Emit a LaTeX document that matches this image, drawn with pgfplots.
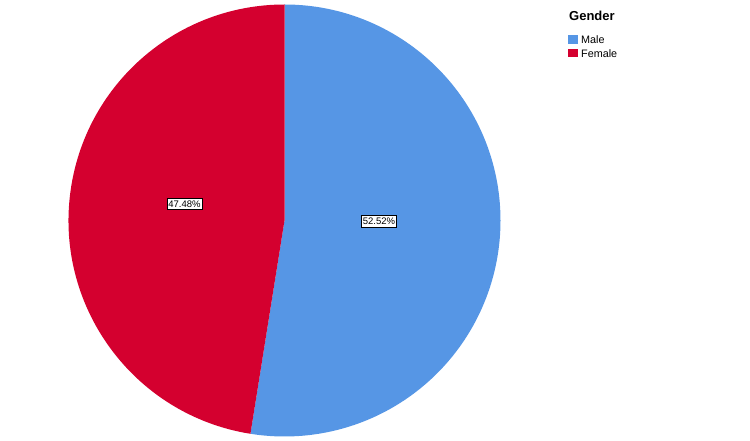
\documentclass[border=0pt]{standalone}
\usepackage{pgfplots}
\pgfplotsset{compat=1.18}
\usepackage{pgfplotstable}
\usepackage{fontspec}
\setmainfont{Liberation Sans}
\definecolor{male}{RGB}{86,150,229}
\definecolor{female}{RGB}{212,0,47}
\pgfplotstableread{
label value
Male 52.52
Female 47.48
}\piedata
\begin{document}
\begin{tikzpicture}
\useasboundingbox (0,0) rectangle (750pt,441pt);
\pgfplotstablegetelem{0}{value}\of\piedata
\let\vmale\pgfplotsretval
\pgfplotstablegetelem{1}{value}\of\piedata
\let\vfemale\pgfplotsretval
\pgfmathsetmacro\am{90-3.6*\vmale}
\pgfmathsetmacro\af{\am-3.6*\vfemale}
\begin{axis}[at={(0,0)},anchor=south west,
  width=750pt,height=441pt,scale only axis,
  xmin=0,xmax=750,ymin=0,ymax=441,
  hide axis,clip=false]
\fill[male] (axis cs:284.5,220.5) -- (axis cs:284.5,436.5)
  arc[start angle=90,end angle=\am,radius=216pt] -- cycle;
\fill[female] (axis cs:284.5,220.5) -- ++(\am:216pt)
  arc[start angle=\am,end angle=\af,radius=216pt] -- cycle;
\node[draw=black,line width=0.7pt,fill=white,inner xsep=1.5pt,inner ysep=2.3pt,
  font=\fontsize{9.5}{11}\selectfont] at (axis cs:184.5,237) {\vfemale\%};
\node[draw=black,line width=0.7pt,fill=white,inner xsep=1.5pt,inner ysep=2.3pt,
  font=\fontsize{9.5}{11}\selectfont] at (axis cs:379,219.7) {\vmale\%};
% legend
\node[anchor=base west,inner sep=0pt,font=\fontsize{13}{15}\selectfont\bfseries]
  at (axis cs:569,420) {Gender};
\fill[male] (axis cs:568,397.3) rectangle (axis cs:578,406.3);
\fill[female] (axis cs:568,383.7) rectangle (axis cs:578,392.3);
\node[anchor=base west,inner sep=0pt,font=\fontsize{10.8}{13}\selectfont]
  at (axis cs:581,397.5) {Male};
\node[anchor=base west,inner sep=0pt,font=\fontsize{10.8}{13}\selectfont]
  at (axis cs:581,383.5) {Female};
\end{axis}
\end{tikzpicture}
\end{document}
